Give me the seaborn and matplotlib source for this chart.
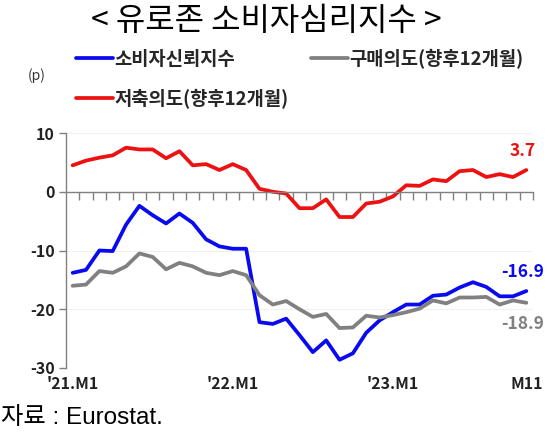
import numpy as np
import pandas as pd
import matplotlib
matplotlib.use("Agg")
import matplotlib.pyplot as plt
import seaborn as sns

# ---- data ----
months = list(range(35))  # 2021.M1 .. 2023.M11
confidence = [-13.8, -13.3, -10.0, -10.1, -5.6, -2.4, -4.0, -5.4, -3.7, -5.3, -8.1, -9.3,
              -9.7, -9.7, -22.2, -22.5, -21.6, -24.4, -27.3, -25.3, -28.6, -27.5, -24.0, -21.9,
              -20.5, -19.2, -19.2, -17.7, -17.5, -16.3, -15.4, -16.2, -17.8, -17.8, -16.9]
purchase = [-16.0, -15.8, -13.5, -13.8, -12.7, -10.5, -11.1, -13.2, -12.1, -12.7, -13.8, -14.2,
            -13.5, -14.2, -17.6, -19.2, -18.6, -20.0, -21.3, -20.8, -23.2, -23.1, -21.1, -21.4,
            -21.0, -20.5, -19.9, -18.5, -19.0, -18.0, -18.0, -17.9, -19.2, -18.5, -18.9]
savings = [4.5, 5.3, 5.8, 6.2, 7.5, 7.2, 7.2, 5.7, 6.9, 4.5, 4.7, 3.7,
           4.7, 3.7, 0.5, 0.0, -0.3, -2.8, -2.8, -1.3, -4.3, -4.3, -2.0, -1.7,
           -0.8, 1.1, 1.0, 2.1, 1.8, 3.5, 3.7, 2.5, 3.0, 2.5, 3.7]
series_names = ["소비자신뢰지수", "구매의도(향후12개월)", "저축의도(향후12개월)"]
end_labels = ["-16.9", "-18.9", "3.7"]
xtick_pos = [0, 12, 24, 34]
xtick_labels = ["'21.M1", "'22.M1", "'23.M1", "M11"]
yticks = [10, 0, -10, -20, -30]

colors = {"소비자신뢰지수": "#0A0AF0", "구매의도(향후12개월)": "#808080", "저축의도(향후12개월)": "#EE1111"}

df = pd.DataFrame({
    "month": months * 3,
    "value": confidence + purchase + savings,
    "series": [series_names[0]] * 35 + [series_names[1]] * 35 + [series_names[2]] * 35,
})

sns.set_theme(style="white")
plt.rcParams["font.family"] = ["Noto Sans CJK KR", "DejaVu Sans"]

fig = plt.figure(figsize=(5.5, 4.32), dpi=100)
ax = fig.add_axes([66 / 550, (432 - 368) / 432, (533 - 66) / 550, (368 - 133) / 432])

sns.lineplot(data=df, x="month", y="value", hue="series", hue_order=series_names,
             palette=colors, linewidth=2.7, legend=False, ax=ax)

ax.set_xlim(-0.5, 34.5)
ax.set_ylim(-30, 10)
ax.set_xlabel("")
ax.set_ylabel("")

# faint grid
for v in [10, -10, -20]:
    ax.axhline(v, color="#f0f0f0", lw=0.8, zorder=0)

# spines
for s in ["top", "right"]:
    ax.spines[s].set_visible(False)
ax.spines["left"].set_color("#808080")
ax.spines["left"].set_linewidth(1.0)
ax.spines["bottom"].set_position(("data", 0))
ax.spines["bottom"].set_color("#808080")
ax.spines["bottom"].set_linewidth(1.0)

ax.set_yticks(yticks)
ax.set_yticklabels([str(t) for t in yticks], fontweight="bold", fontsize=11.5, color="#222222")
ax.tick_params(axis="y", direction="out", length=5, color="#808080", width=1, pad=3, left=True)

boundaries = [m + 0.5 for m in months]
ax.set_xticks(boundaries)
ax.set_xticklabels([])
ax.tick_params(axis="x", direction="out", length=6, color="#808080", width=1, bottom=True)

sec = ax.secondary_xaxis("bottom")
sec.set_xticks(xtick_pos)
sec.set_xticklabels(xtick_labels, fontweight="bold", fontsize=11.5, color="#222222")
sec.spines["bottom"].set_visible(False)
sec.tick_params(axis="x", length=0, pad=6)

# end value labels
ends = [confidence[-1], purchase[-1], savings[-1]]
offsets = [(-3, 14), (-3, -15), (-3, 14)]
for name, val, lab, off in zip(series_names, ends, end_labels, offsets):
    ax.annotate(lab, xy=(months[-1], val), xytext=off, textcoords="offset points",
                ha="center", va="center", fontsize=12.5, fontweight="bold",
                color=colors[name], annotation_clip=False)

# legend
order = [series_names[0], series_names[2], series_names[1]]
h = [plt.Line2D([], [], color=colors[n], lw=2.7) for n in order]
fig.legend(h, order, ncol=2,
           loc="upper left", bbox_to_anchor=(76 / 550, 1 - 49 / 432), frameon=False,
           prop={"size": 13.5, "weight": "bold"}, handlelength=1.95, handletextpad=0.1,
           columnspacing=1.2, labelspacing=1.05, borderpad=0, borderaxespad=0)

fig.text(28 / 550, 1 - 76 / 432, "(p)", fontsize=10, color="#333333", ha="left", va="center")
fig.text(266 / 550, 1 - 21 / 432, "< 유로존 소비자심리지수 >", fontsize=23, ha="center", va="center", color="black")
fig.text(1 / 550, 1 - 418 / 432, "자료 : Eurostat.", fontsize=17.5, ha="left", va="center", color="black",
         family=["Liberation Sans", "Noto Sans CJK KR"])

fig.savefig("out.png", dpi=100)
